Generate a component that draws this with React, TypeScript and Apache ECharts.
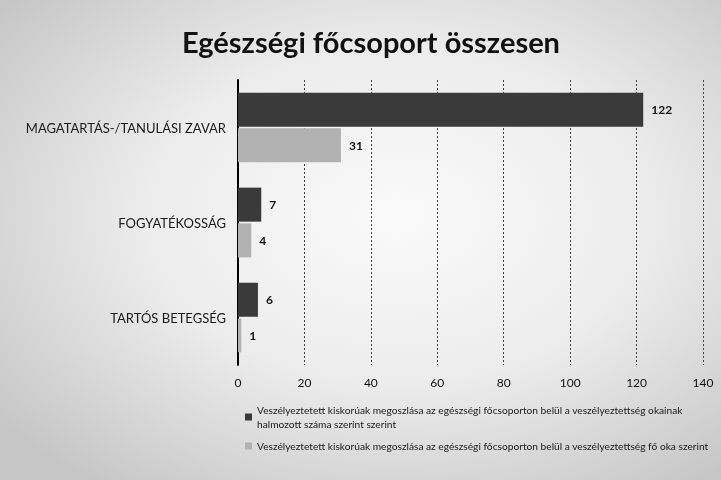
import React, { useEffect, useRef } from "react";
import * as echarts from "echarts";

const categories = ["MAGATARTÁS-/TANULÁSI ZAVAR", "FOGYATÉKOSSÁG", "TARTÓS BETEGSÉG"];
const seriesNames = [
  "Veszélyeztetett kiskorúak megoszlása az egészségi főcsoporton belül a veszélyeztettség okainak halmozott száma szerint szerint",
  "Veszélyeztetett kiskorúak megoszlása az egészségi főcsoporton belül a veszélyeztettség fő oka szerint",
];
const legendLabels = [
  "Veszélyeztetett kiskorúak megoszlása az egészségi főcsoporton belül a veszélyeztettség okainak\nhalmozott száma szerint szerint",
  "Veszélyeztetett kiskorúak megoszlása az egészségi főcsoporton belül a veszélyeztettség fő oka szerint",
];
const halmozottValues = [122, 7, 6];
const foOkaValues = [31, 4, 1];
const title = "Egészségi főcsoport összesen";

export default function App() {
  const ref = useRef<HTMLDivElement>(null);
  useEffect(() => {
    if (!ref.current) return;
    const chart = echarts.init(ref.current, undefined, { renderer: "svg" });
    const font = "Lato, 'Open Sans', sans-serif";
    chart.setOption({
      animation: false,
      backgroundColor: {
        type: "radial",
        x: 0.55,
        y: 0.45,
        r: 0.7,
        colorStops: [
          { offset: 0, color: "#fafafa" },
          { offset: 0.5, color: "#ececec" },
          { offset: 1, color: "#c6c6c6" },
        ],
      },
      textStyle: { fontFamily: font },
      title: {
        text: title,
        left: 366,
        textAlign: "center",
        top: 22,
        textStyle: { fontFamily: font, fontSize: 29, fontWeight: "bold", color: "#111" },
      },
      grid: { left: 238, right: 18, top: 80, bottom: 115 },
      xAxis: {
        type: "value",
        min: 0,
        max: 140,
        interval: 20,
        axisLine: { show: false },
        axisTick: { show: false },
        axisLabel: { color: "#111", fontSize: 12, margin: 11, fontFamily: font },
        splitLine: { show: true, lineStyle: { color: "#444", type: [2, 2], width: 1 } },
      },
      yAxis: {
        type: "category",
        data: categories,
        inverse: true,
        axisLine: { show: true, lineStyle: { color: "#000", width: 2 } },
        axisTick: { show: false },
        axisLabel: { color: "#1a1a1a", fontSize: 13, margin: 12, fontFamily: font },
      },
      legend: {
        orient: "vertical",
        left: 240,
        top: 398,
        itemWidth: 7,
        itemHeight: 7,
        itemGap: 8,
        icon: "rect",
        formatter: (name: string) => legendLabels[seriesNames.indexOf(name)],
        textStyle: { fontSize: 10.2, color: "#1a1a1a", fontFamily: font, lineHeight: 14 },
      },
      series: [
        {
          name: seriesNames[0],
          type: "bar",
          data: halmozottValues,
          barWidth: 34,
          barGap: "5%",
          itemStyle: { color: "#3a3a3a" },
          label: { show: true, position: "right", distance: 8, fontWeight: "bold", fontSize: 12, color: "#111" },
        },
        {
          name: seriesNames[1],
          type: "bar",
          data: foOkaValues,
          barWidth: 34,
          barGap: "5%",
          itemStyle: { color: "#b2b2b2" },
          label: { show: true, position: "right", distance: 8, fontWeight: "bold", fontSize: 12, color: "#111" },
        },
      ],
    });
    return () => chart.dispose();
  }, []);
  return <div ref={ref} style={{ position: "fixed", left: 0, top: 0, width: 721, height: 480 }} />;
}
